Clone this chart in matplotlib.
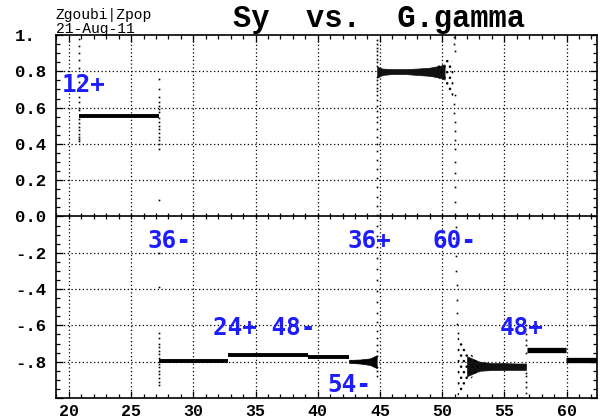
import numpy as np
import matplotlib.pyplot as plt
from matplotlib.ticker import MultipleLocator

# Plateaus of Sy between resonance crossings
flat_x0 = [20.84, 27.24, 32.81, 39.19, 56.80, 59.96]
flat_x1 = [27.20, 32.81, 39.19, 42.52, 59.96, 62.45]
flat_sy = [0.556, -0.794, -0.761, -0.774, -0.734, -0.789]

# 54- plateau, thickening towards 36+
p54_x = [42.52, 43.4, 44.2, 44.74]
p54_lo = [-0.806, -0.810, -0.818, -0.835]
p54_hi = [-0.790, -0.788, -0.782, -0.765]

# band after 36+ crossing
bandA_x = [44.78, 45.2, 46.0, 47.0, 48.0, 49.0, 49.8, 50.2]
bandA_lo = [0.765, 0.780, 0.785, 0.785, 0.780, 0.775, 0.765, 0.755]
bandA_hi = [0.825, 0.815, 0.812, 0.812, 0.815, 0.820, 0.830, 0.838]
fuzzA_x = [49.6, 50.2, 50.6, 50.9]
fuzzA_lo = [0.77, 0.73, 0.68, 0.64]
fuzzA_hi = [0.83, 0.86, 0.87, 0.84]

# band after 60- crossing
bandB_x = [52.0, 52.5, 53.0, 54.0, 55.0, 56.0, 56.75]
bandB_lo = [-0.88, -0.865, -0.850, -0.846, -0.845, -0.845, -0.845]
bandB_hi = [-0.77, -0.785, -0.800, -0.808, -0.808, -0.810, -0.810]
fuzzB_x = [51.25, 51.6, 52.0, 52.5, 53.0]
fuzzB_lo = [-0.99, -0.96, -0.92, -0.88, -0.86]
fuzzB_hi = [-0.66, -0.70, -0.74, -0.77, -0.80]

# sparse particle dots during crossings
colA_x = 20.81
colA_y = [0.98, 0.94, 0.90, 0.86, 0.82, 0.78, 0.74, 0.70, 0.66, 0.63, 0.60,
          0.585, 0.535, 0.515, 0.495, 0.475, 0.455, 0.44, 0.425, 0.415]
colB_x = 27.2
colB_y = [0.76, 0.70, 0.66, 0.63, 0.61, 0.59, 0.575, 0.54, 0.52, 0.50, 0.48,
          0.46, 0.44, 0.42, 0.40, 0.37, 0.09]
colB2_x = 27.27
colB2_y = [-0.20, -0.39, -0.64, -0.67, -0.70, -0.72, -0.74, -0.76, -0.78,
           -0.81, -0.83, -0.85, -0.87, -0.89, -0.91, -0.93]
colC_x = 44.78
colC_y = [0.97, 0.95, 0.93, 0.91, 0.89, 0.87, 0.85, 0.83, 0.77, 0.75, 0.73,
          0.71, 0.69, 0.67, 0.64, 0.61, 0.58, 0.55, 0.52, 0.48, 0.44, 0.40,
          0.36, 0.31, 0.26, 0.21, 0.16, 0.11, 0.06, 0.01, -0.05, -0.11,
          -0.17, -0.23, -0.29, -0.35, -0.41, -0.47, -0.53, -0.58, -0.63,
          -0.67, -0.71, -0.74, -0.77, -0.83, -0.85, -0.88]
colD_x = [50.95, 50.97, 51.0, 51.0, 50.95, 50.98, 51.0, 51.0, 51.02, 51.02,
          51.03, 51.03, 51.05, 51.05, 51.07, 51.08, 51.1, 51.12, 51.14,
          51.16, 51.18, 51.2, 51.22, 51.24]
colD_y = [0.99, 0.95, 0.91, 0.67, 0.62, 0.57, 0.52, 0.47, 0.42, 0.37, 0.30,
          0.24, 0.16, 0.08, 0.01, -0.06, -0.14, -0.22, -0.30, -0.38, -0.46,
          -0.53, -0.59, -0.64]
colE_x = 56.78
colE_y = [-0.60, -0.65, -0.68, -0.71, -0.75, -0.86, -0.88, -0.91, -0.94,
          -0.97]

# resonance labels: text, G.gamma, Sy
res_txt = ['12+', '36-', '36+', '60-', '24+ 48-', '54-', '48+']
res_x = [19.45, 26.28, 42.36, 49.19, 31.58, 40.75, 54.65]
res_y = [0.686, -0.172, -0.172, -0.172, -0.651, -0.965, -0.651]

ytick_vals = [1.0, 0.8, 0.6, 0.4, 0.2, 0.0, -0.2, -0.4, -0.6, -0.8, -1.0]
ytick_text = ['1.', '0.8', '0.6', '0.4', '0.2', '0.0', '-.2', '-.4', '-.6',
              '-.8', '']
xtick_vals = [20, 25, 30, 35, 40, 45, 50, 55, 60]

mono = 'Liberation Mono'
blue = '#1c1cff'

fig = plt.figure(figsize=(6.05, 4.2), dpi=100)
ax = fig.add_axes([56 / 605, 1 - 398 / 420, 541 / 605, 363 / 420])
ax.set_xlim(18.96, 62.45)
ax.set_ylim(-1, 1)

# grid
for xv in xtick_vals:
    ax.axvline(xv, color='black', lw=0.9, ls=(0, (1, 2)), zorder=1)
for yv in ytick_vals:
    if yv != 0.0 and abs(yv) != 1.0:
        ax.axhline(yv, color='black', lw=0.9, ls=(0, (1, 2)), zorder=1)
ax.axhline(0.0, color='black', lw=1.2, zorder=2)
zt = np.arange(19, 63)
ax.plot(zt, np.zeros_like(zt), ls='none', marker='|', ms=5, mew=0.9,
        color='black', zorder=2)

# data
dot = dict(ls='none', marker='s', ms=1.2, mew=0, color='black', zorder=3)
ax.hlines(flat_sy[:4], flat_x0[:4], flat_x1[:4], color='black', lw=2.8,
          zorder=3)
ax.hlines(flat_sy[4:], flat_x0[4:], flat_x1[4:], color='black', lw=3.8,
          zorder=3)
ax.fill_between(p54_x, p54_lo, p54_hi, color='black', lw=0.5, zorder=3)
ax.fill_between(bandA_x, bandA_lo, bandA_hi, color='#111111', lw=0.5,
                zorder=3)
ax.fill_between(bandB_x, bandB_lo, bandB_hi, color='#111111', lw=0.5,
                zorder=3)
plt.rcParams['hatch.linewidth'] = 1.0
ax.fill_between(fuzzA_x, fuzzA_lo, fuzzA_hi, facecolor='none',
                edgecolor='black', hatch='...', lw=0, zorder=3)
ax.fill_between(fuzzB_x, fuzzB_lo, fuzzB_hi, facecolor='none',
                edgecolor='black', hatch='...', lw=0, zorder=3)
ax.plot([colA_x] * len(colA_y), colA_y, **dot)
ax.plot([colB_x] * len(colB_y), colB_y, **dot)
ax.plot([colB2_x] * len(colB2_y), colB2_y, **dot)
ax.plot([colC_x] * len(colC_y), colC_y, **dot)
ax.plot(colD_x, colD_y, **dot)
ax.plot([colE_x] * len(colE_y), colE_y, **dot)

for t, x, y in zip(res_txt, res_x, res_y):
    ax.text(x, y, t, color=blue, fontsize=17.5, fontweight='bold',
            family='DejaVu Sans Mono', va='baseline', ha='left', zorder=5)

# axes, ticks
for s in ax.spines.values():
    s.set_linewidth(1.2)
ax.set_xticks(xtick_vals)
ax.set_xticklabels([str(v) for v in xtick_vals], family=mono,
                   fontweight='bold', fontsize=12)
ax.set_yticks(ytick_vals)
ax.set_yticklabels(ytick_text, family=mono, fontweight='bold', fontsize=12.5,
                   ha='left')
ax.xaxis.set_minor_locator(MultipleLocator(1))
ax.yaxis.set_minor_locator(MultipleLocator(0.05))
ax.tick_params(which='both', direction='in', top=True, right=True)
ax.tick_params(which='major', length=5, width=0.9)
ax.tick_params(which='minor', length=3, width=0.9)
ax.tick_params(axis='y', pad=29.5)
ax.tick_params(axis='x', pad=4)

fig.text(233 / 605, 1 - 27 / 420, 'Sy  vs.  G.gamma', family=mono,
         fontweight='bold', fontsize=22, va='baseline')
fig.text(56 / 605, 1 - 19 / 420, 'Zgoubi|Zpop', family=mono,
         fontsize=10.5, va='baseline')
fig.text(56 / 605, 1 - 33 / 420, '21-Aug-11', family=mono,
         fontsize=10.5, va='baseline')

fig.savefig('out.png', dpi=100)
